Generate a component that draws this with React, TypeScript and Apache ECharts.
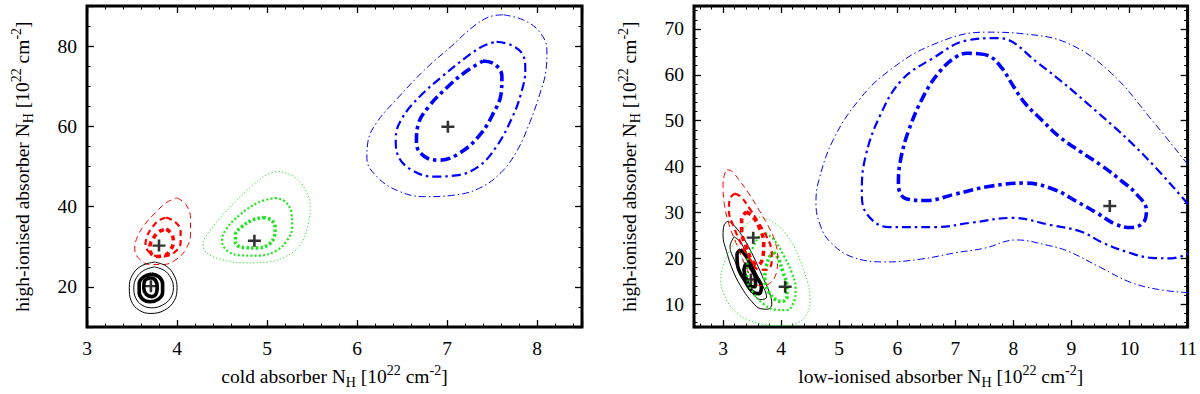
import React, { useEffect, useRef } from 'react';
import * as echarts from 'echarts';

const FONT = "'Liberation Serif', 'Times New Roman', serif";

// ---------- axis ranges & ticks ----------
const leftX = { min: 3, max: 8.5, step: 1, minor: 5 };
const leftY = { min: 10, max: 90, step: 20, minor: 4 };
const rightX = { min: 2.5, max: 11, step: 1, minor: 5 };
const rightY = { min: 5, max: 75, step: 10, minor: 5 };

// ---------- left panel: cold vs high-ionised ----------
const leftBest = [
  [3.8, 30.3],
  [3.71, 20.2],
  [4.86, 31.5],
  [7.01, 59.9],
];
const lBlack1 = [[3.75,26.2],[3.88,25.2],[3.97,22.8],[4.0,19.8],[3.97,16.6],[3.86,14.2],[3.71,13.4],[3.58,14.2],[3.49,16.6],[3.47,19.8],[3.5,22.8],[3.6,25.2],[3.75,26.2]];
const lBlack2 = [[3.75,25],[3.86,24.1],[3.93,22.3],[3.96,19.9],[3.93,17.3],[3.84,15.5],[3.72,14.8],[3.61,15.5],[3.54,17.3],[3.52,19.9],[3.55,22.3],[3.63,24.1],[3.75,25]];
const lBlack3 = [[3.72,23.2],[3.8,22.5],[3.84,20.8],[3.84,18.6],[3.79,16.9],[3.7,16.3],[3.62,16.9],[3.58,18.6],[3.58,20.8],[3.63,22.5],[3.72,23.2]];
const lBlack4 = [[3.71,22.3],[3.76,21.7],[3.78,20],[3.77,18.4],[3.72,17.6],[3.66,18.1],[3.63,19.8],[3.64,21.5],[3.71,22.3]];
const lRed1 = [[4.0,42.2],[4.1,40.5],[4.15,37],[4.15,33],[4.1,29.5],[4.0,27.0],[3.85,25.6],[3.7,25.6],[3.58,27.0],[3.53,29.5],[3.56,32.5],[3.64,35.5],[3.76,38.5],[3.88,41.0],[4.0,42.2]];
const lRed2 = [[3.88,37.3],[3.98,36.2],[4.04,34],[4.04,31],[3.99,29],[3.9,27.8],[3.8,27.6],[3.7,28.5],[3.65,30.5],[3.67,32.8],[3.73,35],[3.8,36.6],[3.88,37.3]];
const lRed3 = [[3.88,34.4],[3.94,33.2],[3.96,31.3],[3.93,29.3],[3.86,27.8],[3.77,27.6],[3.71,28.5],[3.7,30.2],[3.74,32.2],[3.8,33.8],[3.88,34.4]];
const lGreen1 = [[5.13,48.8],[5.3,47.5],[5.42,44.5],[5.48,40],[5.45,35],[5.37,30.5],[5.2,27.5],[5.0,26.2],[4.75,26.0],[4.5,26.8],[4.33,28.5],[4.29,30.7],[4.35,33.5],[4.51,38],[4.68,42],[4.85,45.5],[5.0,48],[5.13,48.8]];
const lGreen2 = [[5.09,42.2],[5.2,41.3],[5.27,38.5],[5.28,35],[5.22,31.5],[5.1,29],[4.9,27.8],[4.7,27.9],[4.56,29],[4.5,31.5],[4.55,34.5],[4.7,38],[4.9,41],[5.09,42.2]];
const lGreen3 = [[4.96,37.3],[5.05,36.6],[5.09,34.8],[5.08,32.5],[5.02,30.6],[4.9,29.7],[4.75,29.8],[4.65,31],[4.65,33],[4.72,35],[4.84,36.7],[4.96,37.3]];
const lBlue1 = [[7.63,87.8],[7.85,86.5],[8.03,83.5],[8.11,79],[8.1,74],[8.03,68],[7.92,61],[7.78,54],[7.6,48.5],[7.35,44.5],[7.05,42.8],[6.75,42.5],[6.45,44],[6.22,47.5],[6.11,52],[6.12,56],[6.22,61],[6.45,67],[6.77,74.5],[7.05,80],[7.3,85],[7.5,87.5],[7.63,87.8]];
const lBlue2 = [[7.55,81.1],[7.72,80.2],[7.85,77.5],[7.87,74],[7.82,68],[7.72,62],[7.55,55],[7.35,50],[7.1,47.8],[6.85,47.5],[6.62,49],[6.46,52.5],[6.43,57],[6.5,62],[6.7,67.5],[6.95,72.5],[7.2,77],[7.4,80],[7.55,81.1]];
const lBlue3 = [[7.4,76.3],[7.53,75.5],[7.61,72.5],[7.6,68],[7.52,63.5],[7.37,58],[7.15,53.5],[6.92,51.6],[6.75,52.5],[6.66,55.8],[6.68,60.5],[6.8,65],[7.0,69.7],[7.2,73.5],[7.4,76.3]];

// ---------- right panel: low-ionised vs high-ionised ----------
const rightBest = [
  [3.52, 24.5],
  [3.48, 15.4],
  [4.07, 13.8],
  [9.66, 31.4],
];
const rBlack1 = [[3.09,28.1],[3.2,27],[3.35,24.5],[3.52,20.5],[3.68,16],[3.8,12.5],[3.84,10],[3.77,8.9],[3.65,9],[3.5,10.5],[3.35,13],[3.18,17],[3.06,21.5],[3.0,25],[3.02,27.3],[3.09,28.1]];
const rBlack2 = [[3.19,24.7],[3.3,23.5],[3.45,20],[3.6,16],[3.72,13],[3.75,11.5],[3.65,11],[3.5,12.5],[3.35,15.5],[3.2,19.5],[3.12,22.5],[3.19,24.7]];
const rBlack3 = [[3.3,21.9],[3.42,20],[3.55,16.5],[3.66,13.8],[3.62,12.3],[3.5,12.8],[3.38,15],[3.25,18.5],[3.24,20.8],[3.3,21.9]];
const rBlack4 = [[3.4,19],[3.48,17.8],[3.56,15.5],[3.55,13.8],[3.48,13.8],[3.4,15.5],[3.36,17.5],[3.4,19]];
const rRed1 = [[3.07,39.3],[3.15,39],[3.28,37],[3.45,34],[3.62,30.5],[3.78,27],[3.9,23.5],[3.94,20],[3.91,16.5],[3.8,14.5],[3.65,14],[3.52,15],[3.4,18],[3.25,22.5],[3.1,27.5],[3.02,32],[3.0,36],[3.03,38.5],[3.07,39.3]];
const rRed2 = [[3.2,34.1],[3.3,33.5],[3.45,31],[3.6,28],[3.74,25],[3.83,22],[3.84,19.5],[3.76,17.5],[3.62,17.5],[3.48,19.5],[3.32,23],[3.18,27],[3.1,30.5],[3.12,33],[3.2,34.1]];
const rRed3 = [[3.4,30.1],[3.52,29],[3.63,26.5],[3.7,23.5],[3.69,20.5],[3.6,18.5],[3.5,19.5],[3.4,22.5],[3.32,26],[3.32,28.5],[3.4,30.1]];
const rGreen1 = [[3.62,29.0],[3.8,28.3],[4.0,26.5],[4.18,23.5],[4.33,19.5],[4.45,15],[4.5,11],[4.45,8],[4.3,6],[4.05,5.3],[3.75,5.5],[3.45,6.5],[3.2,8.5],[3.02,12],[2.96,15.5],[3.02,19],[3.15,22.5],[3.32,26],[3.48,28.2],[3.62,29.0]];
const rGreen2 = [[3.73,25.5],[3.88,24],[4.05,20.5],[4.18,17],[4.25,13.5],[4.22,10.5],[4.1,8.7],[3.9,8.8],[3.7,10],[3.52,12.5],[3.42,15.5],[3.42,19],[3.52,22.5],[3.63,24.8],[3.73,25.5]];
const rGreen3 = [[3.87,21.3],[3.95,20],[4.03,17],[4.1,14],[4.1,11.5],[4.02,10.6],[3.9,11],[3.78,12.8],[3.72,15.5],[3.75,18.5],[3.82,20.7],[3.87,21.3]];
const rBlue1 = [[11.0,40.5],[10.38,50.2],[9.69,60.3],[8.95,66.8],[8.2,68.9],[7.51,69.3],[6.6,66.5],[5.85,60.8],[5.34,54.5],[4.9,45.9],[4.65,37],[4.6,32],[4.68,27],[4.85,23.5],[5.22,20.3],[5.8,19.2],[6.4,19.8],[7.0,21.2],[7.5,22.2],[8.05,24.0],[8.6,22.8],[8.95,21.5],[9.5,18],[10.03,14.7],[10.5,13.2],[11.0,12.5]];
const rBlue2 = [[11.0,31.9],[10.26,42.3],[9.46,51.7],[8.43,62.5],[7.74,68.0],[7.2,67.5],[6.6,63.5],[6.08,58.9],[5.7,51],[5.45,42],[5.39,34.4],[5.48,29.6],[5.85,26.8],[6.65,26.8],[7.3,27.8],[7.97,28.8],[8.66,27.2],[9.17,25.8],[9.52,23.5],[10.0,21.2],[10.38,20.1],[10.72,20.0],[11.0,21.0]];
const rBlue3 = [[7.4,64.6],[7.6,64],[7.8,61.5],[8.0,57.5],[8.2,53.8],[8.5,50],[8.78,46.6],[9.15,43.3],[9.52,40.2],[9.85,37],[10.12,34],[10.29,30.5],[10.25,28],[10.03,26.7],[9.75,27.5],[9.45,29.8],[9.1,32.3],[8.7,35],[8.2,36.4],[7.6,35.7],[7.0,34],[6.5,32.6],[6.15,33],[6.02,36],[6.05,41],[6.2,48],[6.48,56],[6.75,61],[7.0,63.8],[7.2,64.7],[7.4,64.6]];

const RED = '#ff0000';
const GREEN = '#1ee61e';
const BLUE = '#0000ff';
const BLACK = '#000000';

const dashRed = [[6, 4], [6, 4], [5, 4]];
const dotGreen = [[1.2, 2.2], [2, 2.2], [2.5, 2.2]];
const dashDotBlue = [[7, 3, 1.5, 3], [9, 4, 2.5, 4], [10, 4, 3.5, 4]];
const widths = [1, 2.2, 3.6];

const AXIS_NAME_X_L = '{n|cold absorber N}{sub|H}{n| [10}{sup|22}{n| cm}{sup|-2}{n|]}';
const AXIS_NAME_X_R = '{n|low-ionised absorber N}{sub|H}{n| [10}{sup|22}{n| cm}{sup|-2}{n|]}';
const AXIS_NAME_Y = '{n|high-ionised absorber N}{sub|H}{n| [10}{sup|22}{n| cm}{sup|-2}{n|]}';

const FS = 19.5;
const FS_SMALL = 14;

const richName = {
  n: { fontSize: FS, fontFamily: FONT, color: '#000', lineHeight: 26, verticalAlign: 'middle' },
  sub: { fontSize: FS_SMALL, fontFamily: FONT, color: '#000', lineHeight: 14, verticalAlign: 'bottom' },
  sup: { fontSize: FS_SMALL, fontFamily: FONT, color: '#000', lineHeight: 14, verticalAlign: 'top' },
};

function makeAxis(cfg: any, gridIndex: number, position: string, labelled: boolean, name?: string, nameGap?: number, isY?: boolean) {
  const span = cfg.max - cfg.min;
  return {
    type: 'value',
    gridIndex,
    position,
    min: cfg.min,
    max: cfg.max,
    splitNumber: Math.round(span / cfg.step),
    minInterval: cfg.step,
    maxInterval: cfg.step,
    axisLine: { show: false },
    axisTick: { show: true, inside: true, length: 7, lineStyle: { color: '#000', width: 1.3 } },
    minorTick: { show: true, splitNumber: cfg.minor, length: 3.5, lineStyle: { color: '#000', width: 1 } },
    splitLine: { show: false },
    minorSplitLine: { show: false },
    axisLabel: {
      show: labelled,
      margin: isY ? 10 : 11,
      fontFamily: FONT,
      fontSize: FS,
      color: '#000',
      showMinLabel: true,
      showMaxLabel: true,
      formatter: (v: number) => {
        const r = v / cfg.step;
        return Math.abs(r - Math.round(r)) < 1e-6 ? String(Math.round(v * 1000) / 1000) : '';
      },
    },
    name: name || '',
    nameLocation: 'middle',
    nameGap: nameGap || 0,
    nameRotate: isY ? 90 : 0,
    nameTextStyle: { rich: richName, fontFamily: FONT, fontSize: FS, color: '#000' },
  };
}

function contour(data: number[][], color: string, level: number, kind: string, xi: number, yi: number) {
  let dash: any = 'solid';
  if (kind === 'dash') dash = dashRed[level];
  if (kind === 'dot') dash = dotGreen[level];
  if (kind === 'dashdot') dash = dashDotBlue[level];
  return {
    type: 'line',
    xAxisIndex: xi,
    yAxisIndex: yi,
    data,
    showSymbol: false,
    symbol: 'none',
    smooth: 0.4,
    silent: true,
    lineStyle: { color, width: kind === 'solid' && level === 1 ? 1 : widths[level], type: dash, cap: 'butt' },
    z: 3,
  };
}

const CROSS = 'path://M4,0H6V4H10V6H6V10H4V6H0V4H4Z';

export default function App() {
  const ref = useRef<HTMLDivElement>(null);
  useEffect(() => {
    if (!ref.current) return;
    const chart = echarts.init(ref.current, undefined, { renderer: 'svg' });
    const series: any[] = [
      // left
      contour(lBlue1, BLUE, 0, 'dashdot', 0, 0),
      contour(lBlue2, BLUE, 1, 'dashdot', 0, 0),
      contour(lBlue3, BLUE, 2, 'dashdot', 0, 0),
      contour(lGreen1, GREEN, 0, 'dot', 0, 0),
      contour(lGreen2, GREEN, 1, 'dot', 0, 0),
      contour(lGreen3, GREEN, 2, 'dot', 0, 0),
      contour(lRed1, RED, 0, 'dash', 0, 0),
      contour(lRed2, RED, 1, 'dash', 0, 0),
      contour(lRed3, RED, 2, 'dash', 0, 0),
      contour(lBlack1, BLACK, 0, 'solid', 0, 0),
      contour(lBlack2, BLACK, 1, 'solid', 0, 0),
      contour(lBlack3, BLACK, 2, 'solid', 0, 0),
      contour(lBlack4, BLACK, 2, 'solid', 0, 0),
      // right
      contour(rBlue1, BLUE, 0, 'dashdot', 2, 2),
      contour(rBlue2, BLUE, 1, 'dashdot', 2, 2),
      contour(rBlue3, BLUE, 2, 'dashdot', 2, 2),
      contour(rBlack1, BLACK, 0, 'solid', 2, 2),
      contour(rBlack2, BLACK, 1, 'solid', 2, 2),
      contour(rBlack3, BLACK, 2, 'solid', 2, 2),
      contour(rBlack4, BLACK, 2, 'solid', 2, 2),
      contour(rGreen1, GREEN, 0, 'dot', 2, 2),
      contour(rGreen2, GREEN, 1, 'dot', 2, 2),
      contour(rGreen3, GREEN, 2, 'dot', 2, 2),
      contour(rRed1, RED, 0, 'dash', 2, 2),
      contour(rRed2, RED, 1, 'dash', 2, 2),
      contour(rRed3, RED, 2, 'dash', 2, 2),
      {
        type: 'scatter', xAxisIndex: 0, yAxisIndex: 0, data: leftBest,
        symbol: CROSS, symbolSize: [13, 12], itemStyle: { color: '#000' }, z: 10, silent: true,
      },
      {
        type: 'scatter', xAxisIndex: 2, yAxisIndex: 2, data: rightBest,
        symbol: CROSS, symbolSize: [13, 12], itemStyle: { color: '#000' }, z: 10, silent: true,
      },
    ];
    chart.setOption({
      animation: false,
      backgroundColor: '#fff',
      grid: [
        { left: 87, top: 6, width: 495, height: 324, show: true, borderColor: '#000', borderWidth: 3, backgroundColor: 'transparent', containLabel: false },
        { left: 694, top: 6, width: 495, height: 324, show: true, borderColor: '#000', borderWidth: 3, backgroundColor: 'transparent', containLabel: false },
      ],
      xAxis: [
        makeAxis(leftX, 0, 'bottom', true, AXIS_NAME_X_L, 33, false),
        makeAxis(leftX, 0, 'top', false),
        makeAxis(rightX, 1, 'bottom', true, AXIS_NAME_X_R, 33, false),
        makeAxis(rightX, 1, 'top', false),
      ],
      yAxis: [
        makeAxis(leftY, 0, 'left', true, AXIS_NAME_Y, 52, true),
        makeAxis(leftY, 0, 'right', false),
        makeAxis(rightY, 1, 'left', true, AXIS_NAME_Y, 52, true),
        makeAxis(rightY, 1, 'right', false),
      ],
      series,
    });
    return () => chart.dispose();
  }, []);
  return <div ref={ref} style={{ position: 'absolute', left: 0, top: 0, width: 1200, height: 394 }} />;
}
